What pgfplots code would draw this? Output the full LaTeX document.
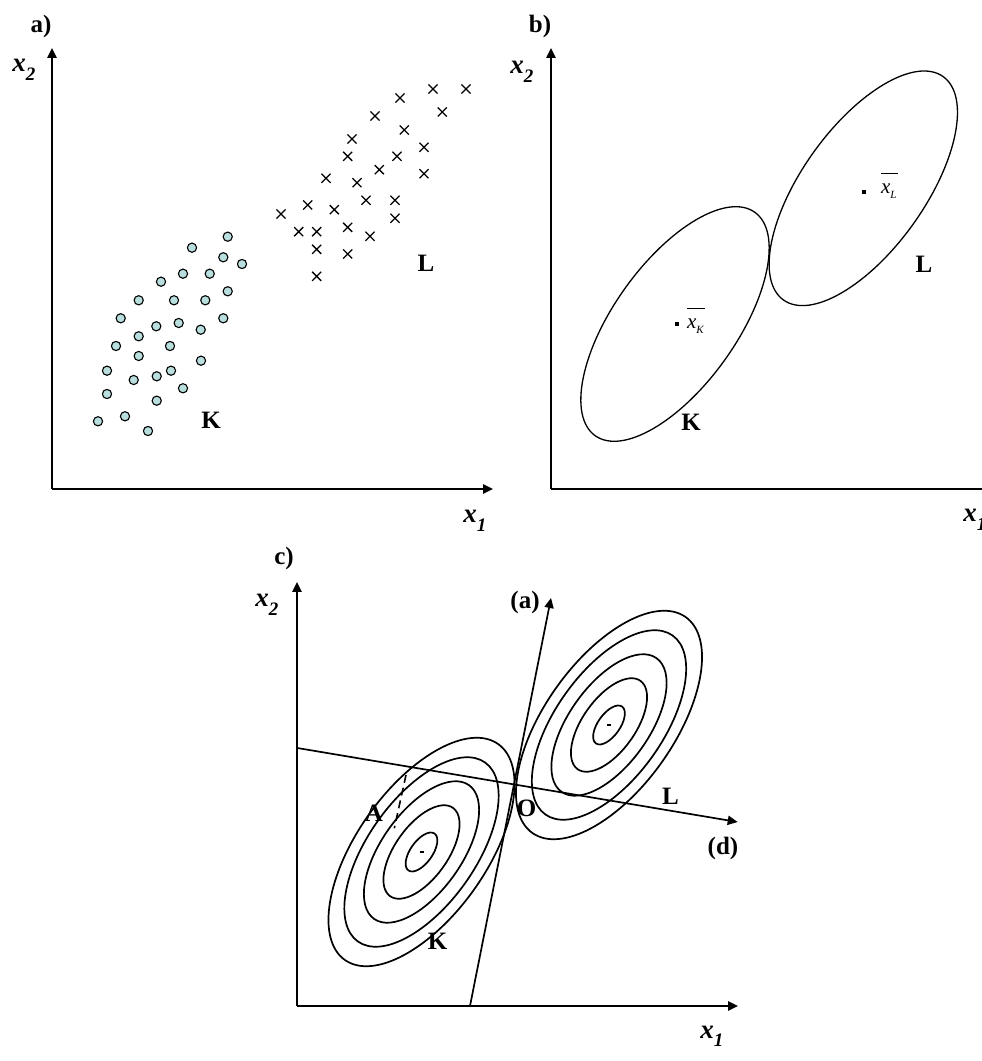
\documentclass[border=0pt]{standalone}
\usepackage{pgfplots}
\pgfplotsset{compat=1.18}
\usetikzlibrary{arrows.meta}
\usepackage{fontspec}
\setmainfont{Liberation Serif}

\definecolor{dotfill}{HTML}{B8DEDE}

% bold serif labels
\newcommand\lbl{\fontsize{12.5}{14}\selectfont\bfseries}
% axis names x_1, x_2
\newcommand\axname[1]{{\fontsize{13.5}{15}\selectfont\bfseries\itshape x\raisebox{-0.3em}{\fontsize{9.5}{11}\selectfont #1}}}
% group means with a bar over them
\newcommand\mean[1]{{\fontsize{10.5}{12}\selectfont\itshape
  \setbox0\hbox{x\raisebox{-0.25em}{\fontsize{5.5}{6}\selectfont #1}}%
  \rlap{\rule[9.6pt]{\dimexpr\wd0+0.6pt\relax}{0.5pt}}\box0}}

\pgfplotsset{
  panel/.style={
    x=0.5pt, y=0.5pt,
    axis lines*=left,
    axis line style={line width=1.1pt, -{Triangle[length=5pt,width=4.6pt]}},
    xtick=\empty, ytick=\empty,
    clip=false,
    anchor=south west,
  },
}

\begin{document}
\begin{tikzpicture}
\useasboundingbox (0,0) rectangle (490.5pt,530.5pt);

% ---------------- a) scatter of both groups ----------------
\begin{axis}[panel, xmin=52, xmax=493, ymin=572, ymax=1013, at={(26pt,286pt)}]
  \addplot[only marks, mark=*, mark size=2.3pt,
           mark options={fill=dotfill, draw=black, line width=0.55pt}]
    coordinates {
    (227.7,824.3) (192,813.3) (223.3,803.7) (242,797) (183,787.3) (209.7,787.3)
    (161,779.3) (227.7,769.7) (138.7,760.7) (174,760.7) (205.3,760.7)
    (120.7,742.7) (223.3,742.7) (156.3,734.7) (178.7,738) (200.7,731.3)
    (138.7,724.7) (116,715) (170,715) (138.7,705) (201,700.3) (107,690.3)
    (171,690.3) (156.7,684.7) (133.7,681) (183,672.7) (107,667) (156.7,660.3)
    (98,639.7) (125,644.7) (148,630)
    };
  \addplot[only marks, mark=x, mark size=3.2pt, mark options={line width=0.65pt}]
    coordinates {
    (433,972) (466,972) (400,963) (442.3,949) (375,945) (404.3,931) (352,922)
    (424,913.7) (347.7,904.7) (397,904.7) (379.3,891.3) (424,887.3) (326,882.7)
    (357,878.3) (307.7,856) (334.3,851.3) (281,847) (366,860.7) (395,860.7)
    (395,842.7) (298.7,829.3) (316.7,829.3) (347.7,833.7) (370,824.7)
    (316.7,811.7) (347.7,807) (316.7,784.7)
    };
  \node[anchor=base] at (axis cs:41,1028) {\lbl a)};
  \node[anchor=base west, inner sep=0pt] at (axis cs:12,989) {\axname{2}};
  \node[anchor=base west, inner sep=0pt] at (axis cs:463,538) {\axname{1}};
  \node[anchor=base] at (axis cs:211,632.7) {\lbl K};
  \node[anchor=base] at (axis cs:426,789.3) {\lbl L};
\end{axis}

% ---------------- b) group regions and means ----------------
\begin{axis}[panel, xmin=551, xmax=992, ymin=572, ymax=1013, at={(275.5pt,286pt)}]
  \draw[line width=0.65pt] (axis cs:675,737)
    ellipse [x radius=68.65pt, y radius=30.7pt, rotate=54.45];
  \draw[line width=0.65pt] (axis cs:863.3,872.7)
    ellipse [x radius=68.65pt, y radius=30.7pt, rotate=54.45];
  \addplot[only marks, mark=square*, mark size=0.75pt]
    coordinates {(676.7,737) (864,869.3)};
  \node[anchor=base west, inner sep=0pt] at (axis cs:686.7,732.7) {\mean{K}};
  \node[anchor=base west, inner sep=0pt] at (axis cs:880.7,867.7) {\mean{L}};
  \node[anchor=base] at (axis cs:540,1028) {\lbl b)};
  \node[anchor=base west, inner sep=0pt] at (axis cs:510,987) {\axname{2}};
  \node[anchor=base west, inner sep=0pt] at (axis cs:963,539) {\axname{1}};
  \node[anchor=base] at (axis cs:691,630.3) {\lbl K};
  \node[anchor=base] at (axis cs:924,788.3) {\lbl L};
\end{axis}

% ---------------- c) density contours and discriminant axes ----------------
\begin{axis}[panel, xmin=297, xmax=738, ymin=55, ymax=479, at={(148.5pt,27.5pt)}]
  % contours of group K
  \draw[line width=0.85pt] (axis cs:421.5,209) ellipse [x radius=66.2pt, y radius=32.3pt, rotate=54.6];
  \draw[line width=0.85pt] (axis cs:421.5,209) ellipse [x radius=54.9pt, y radius=26.8pt, rotate=54.6];
  \draw[line width=0.85pt] (axis cs:421.5,209) ellipse [x radius=41.0pt, y radius=20.0pt, rotate=54.6];
  \draw[line width=0.85pt] (axis cs:421.5,209) ellipse [x radius=27.1pt, y radius=13.2pt, rotate=54.6];
  \draw[line width=0.85pt] (axis cs:421.5,209) ellipse [x radius=11.3pt, y radius=5.5pt, rotate=54.6];
  % contours of group L
  \draw[line width=0.85pt] (axis cs:609,336) ellipse [x radius=66.2pt, y radius=32.3pt, rotate=54.6];
  \draw[line width=0.85pt] (axis cs:609,336) ellipse [x radius=54.9pt, y radius=26.8pt, rotate=54.6];
  \draw[line width=0.85pt] (axis cs:609,336) ellipse [x radius=41.0pt, y radius=20.0pt, rotate=54.6];
  \draw[line width=0.85pt] (axis cs:609,336) ellipse [x radius=27.1pt, y radius=13.2pt, rotate=54.6];
  \draw[line width=0.85pt] (axis cs:609,336) ellipse [x radius=11.3pt, y radius=5.5pt, rotate=54.6];
  \addplot[only marks, mark=-, mark size=1pt, mark options={line width=0.8pt}]
    coordinates {(421.5,209) (609,336)};
  % discriminant direction (d) and separating line (a)
  \addplot[line width=0.85pt, -{Triangle[length=5pt,width=4.6pt]}]
    coordinates {(297.3,313) (737.7,239)};
  \addplot[line width=0.85pt, -{Triangle[length=5pt,width=4.6pt]}]
    coordinates {(470,55) (551,463)};
  \addplot[line width=0.8pt, dash pattern=on 4pt off 2.5pt]
    coordinates {(406,286) (394.3,232.7)};
  \node[anchor=base] at (axis cs:284,496) {\lbl c)};
  \node[anchor=base west, inner sep=0pt] at (axis cs:255,454) {\axname{2}};
  \node[anchor=base west, inner sep=0pt] at (axis cs:700,23) {\axname{1}};
  \node[anchor=base] at (axis cs:525,452) {\lbl (a)};
  \node[anchor=base] at (axis cs:723,206) {\lbl (d)};
  \node[anchor=base] at (axis cs:526.7,244.3) {\lbl O};
  \node[anchor=base] at (axis cs:373.8,239.3) {\lbl A};
  \node[anchor=base] at (axis cs:670.5,256) {\lbl L};
  \node[anchor=base] at (axis cs:437.5,111) {\lbl K};
\end{axis}
\end{tikzpicture}
\end{document}
